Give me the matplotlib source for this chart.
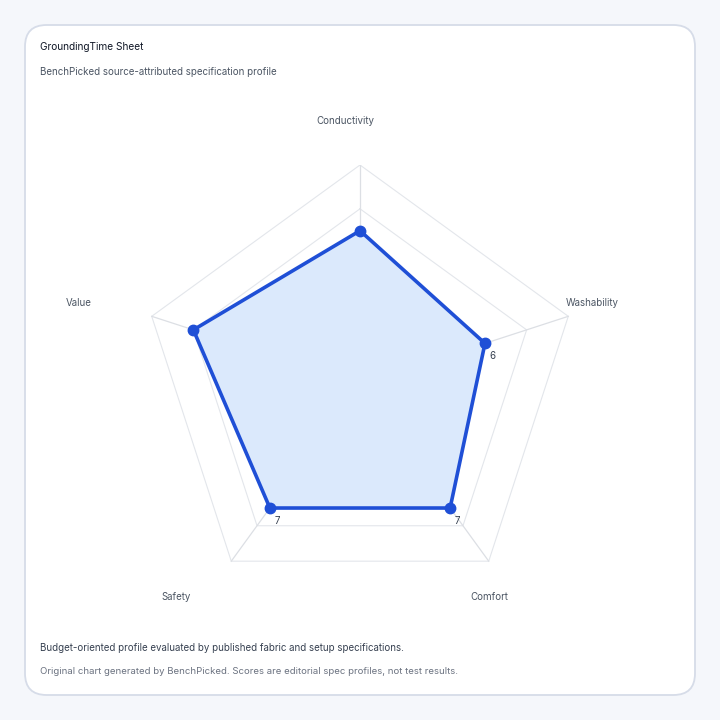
import numpy as np
import matplotlib
matplotlib.use('Agg')
from matplotlib import pyplot as plt
from matplotlib.patches import FancyBboxPatch
from matplotlib.transforms import ScaledTranslation

categories = ['Conductivity', 'Washability', 'Comfort', 'Safety', 'Value']
scores = [7, 6, 7, 7, 8]
shown_labels = [False, True, True, True, False]
rings = [2, 4, 6, 8, 10]
max_score = 10

title = 'GroundingTime Sheet'
subtitle = 'BenchPicked source-attributed specification profile'
note = 'Budget-oriented profile evaluated by published fabric and setup specifications.'
credit = 'Original chart generated by BenchPicked. Scores are editorial spec profiles, not test results.'

plt.rcParams['font.family'] = ['Inter', 'DejaVu Sans']

fig = plt.figure(figsize=(7.2, 7.2), dpi=100)
fig.patch.set_facecolor('#f5f7fb')

# card behind everything
card = FancyBboxPatch((25 / 720, 25 / 720), 670 / 720, 670 / 720,
                      boxstyle='round,pad=0,rounding_size=0.03',
                      transform=fig.transFigure, facecolor='white',
                      edgecolor='#d6dce8', linewidth=1.3, zorder=-10)
fig.patches.append(card)

fig.text(40 / 720, 1 - 47 / 720, title, fontsize=7.3, color='#111827', va='center')
fig.text(40 / 720, 1 - 72 / 720, subtitle, fontsize=7.0, color='#4b5563', va='center')
fig.text(40 / 720, 1 - 648 / 720, note, fontsize=7.0, color='#374151', va='center')
fig.text(40 / 720, 1 - 672 / 720, credit, fontsize=6.9, color='#6b7280', va='center')

# radar drawn in a square cartesian box centred at (360, 384) px, radius 219 px
R = 219
ax = fig.add_axes([(360 - R) / 720, (720 - 384 - R) / 720, 2 * R / 720, 2 * R / 720])
ax.set_zorder(5)
ax.set_xlim(-max_score, max_score)
ax.set_ylim(-max_score, max_score)
ax.set_aspect('equal')
ax.axis('off')

n = len(categories)
angles = np.deg2rad(90 - 72 * np.arange(n))
cx, cy = np.cos(angles), np.sin(angles)

for r in rings:
    ax.plot(np.append(cx, cx[0]) * r, np.append(cy, cy[0]) * r,
            color='#e3e6eb', lw=0.8, zorder=1)
for i in range(n):
    ax.plot([0, cx[i] * max_score], [0, cy[i] * max_score],
            color='#dcdfe4', lw=0.9, zorder=1)

vals = np.array(scores, dtype=float)
px, py = cx * vals, cy * vals
ax.fill(np.append(px, px[0]), np.append(py, py[0]), color='#dbe9fc', zorder=2)
ax.plot(np.append(px, px[0]), np.append(py, py[0]), color='#1f4fd6', lw=2.6,
        zorder=3, solid_joinstyle='round')
ax.plot(px, py, 'o', color='#1f4fd6', ms=7.5, zorder=4)

off = ScaledTranslation(7 / 100, -13 / 100, fig.dpi_scale_trans)
for i in range(n):
    if shown_labels[i]:
        ax.text(px[i], py[i], str(scores[i]), transform=ax.transData + off,
                fontsize=7, color='#374151', ha='center', va='center', zorder=5)

lab_off = ScaledTranslation(-44 / 100, 0, fig.dpi_scale_trans)
for i, name in enumerate(categories):
    ax.text(cx[i] * max_score * 1.2, cy[i] * max_score * 1.2, name,
            transform=ax.transData + lab_off, fontsize=7, color='#4b5563',
            ha='left', va='center', clip_on=False)

fig.savefig('out.png', dpi=100, facecolor=fig.get_facecolor())
